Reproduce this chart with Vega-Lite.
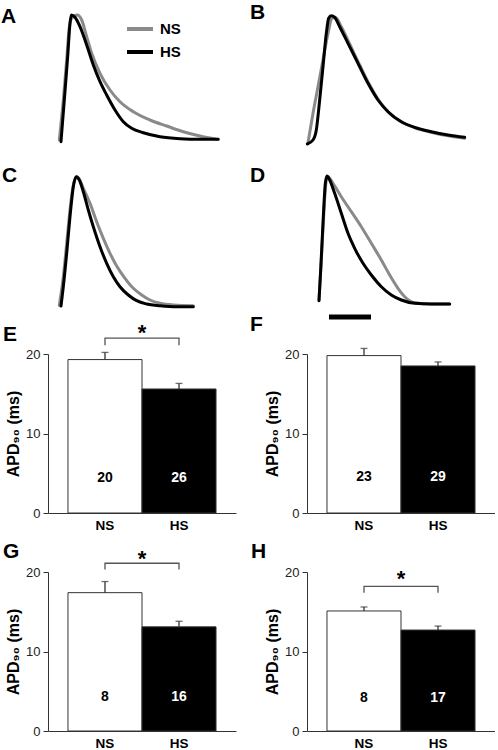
{
"$schema":"https://vega.github.io/schema/vega-lite/v6.json",
"padding":{"left":1,"top":2,"right":0,"bottom":0},
"bounds":"flush",
"columns":2,
"spacing":{"row":59,"column":71},
"resolve":{"scale":{"color":"independent"}},
"config":{"font":"Liberation Sans","view":{"stroke":null},"title":{"font":"Liberation Sans"},"axis":{"labelFont":"Liberation Sans","titleFont":"Liberation Sans"},"legend":{"labelFont":"Liberation Sans"},"text":{"font":"Liberation Sans"}},
"datasets":{
"traces":[
{"panel":"A","cond":"NS","t":2.83,"v":-75},{"panel":"A","cond":"NS","t":3.83,"v":-35},{"panel":"A","cond":"NS","t":4.67,"v":5},{"panel":"A","cond":"NS","t":5.25,"v":35},{"panel":"A","cond":"NS","t":5.92,"v":46.7},{"panel":"A","cond":"NS","t":7.33,"v":50},{"panel":"A","cond":"NS","t":8.42,"v":45},{"panel":"A","cond":"NS","t":9.67,"v":28.3},{"panel":"A","cond":"NS","t":10.92,"v":11.7},{"panel":"A","cond":"NS","t":13,"v":-8.3},{"panel":"A","cond":"NS","t":15.5,"v":-25},{"panel":"A","cond":"NS","t":18,"v":-36.7},{"panel":"A","cond":"NS","t":21.33,"v":-46.7},{"panel":"A","cond":"NS","t":25.5,"v":-55},{"panel":"A","cond":"NS","t":29.67,"v":-61},{"panel":"A","cond":"NS","t":33.83,"v":-66.7},{"panel":"A","cond":"NS","t":38,"v":-71},{"panel":"A","cond":"NS","t":42.17,"v":-74.3},
{"panel":"A","cond":"HS","t":3.25,"v":-76.7},{"panel":"A","cond":"HS","t":4.08,"v":-35},{"panel":"A","cond":"HS","t":4.92,"v":8.3},{"panel":"A","cond":"HS","t":5.5,"v":41.7},{"panel":"A","cond":"HS","t":5.83,"v":50},{"panel":"A","cond":"HS","t":6.75,"v":47.7},{"panel":"A","cond":"HS","t":8,"v":38.3},{"panel":"A","cond":"HS","t":9.67,"v":20},{"panel":"A","cond":"HS","t":11.33,"v":0},{"panel":"A","cond":"HS","t":13,"v":-16.7},{"panel":"A","cond":"HS","t":14.67,"v":-30},{"panel":"A","cond":"HS","t":16.75,"v":-45},{"panel":"A","cond":"HS","t":18.83,"v":-56.7},{"panel":"A","cond":"HS","t":20.92,"v":-63.3},{"panel":"A","cond":"HS","t":23.83,"v":-67.7},{"panel":"A","cond":"HS","t":28,"v":-71.7},{"panel":"A","cond":"HS","t":33,"v":-73.7},{"panel":"A","cond":"HS","t":38,"v":-74.3},{"panel":"A","cond":"HS","t":42.58,"v":-74.3},
{"panel":"B","cond":"NS","t":0.25,"v":-77.7},{"panel":"B","cond":"NS","t":1.5,"v":-48.3},{"panel":"B","cond":"NS","t":2.75,"v":-21.7},{"panel":"B","cond":"NS","t":4,"v":5},{"panel":"B","cond":"NS","t":5.25,"v":31.7},{"panel":"B","cond":"NS","t":6.25,"v":46.7},{"panel":"B","cond":"NS","t":7.08,"v":47.7},{"panel":"B","cond":"NS","t":8.58,"v":38.3},{"panel":"B","cond":"NS","t":10.67,"v":21},{"panel":"B","cond":"NS","t":13.17,"v":0},{"panel":"B","cond":"NS","t":15.67,"v":-20},{"panel":"B","cond":"NS","t":18.17,"v":-36.7},{"panel":"B","cond":"NS","t":20.67,"v":-48.3},{"panel":"B","cond":"NS","t":24,"v":-57.7},{"panel":"B","cond":"NS","t":27.33,"v":-63.3},{"panel":"B","cond":"NS","t":31.5,"v":-67.7},{"panel":"B","cond":"NS","t":35.67,"v":-71},{"panel":"B","cond":"NS","t":39.42,"v":-73.3},
{"panel":"B","cond":"HS","t":0.08,"v":-79},{"panel":"B","cond":"HS","t":1.5,"v":-75},{"panel":"B","cond":"HS","t":2.33,"v":-65},{"panel":"B","cond":"HS","t":3.17,"v":-35},{"panel":"B","cond":"HS","t":4,"v":-1.7},{"panel":"B","cond":"HS","t":4.83,"v":31.7},{"panel":"B","cond":"HS","t":5.42,"v":46.7},{"panel":"B","cond":"HS","t":6.08,"v":49.3},{"panel":"B","cond":"HS","t":6.92,"v":47.7},{"panel":"B","cond":"HS","t":8.17,"v":38.3},{"panel":"B","cond":"HS","t":10.25,"v":21.7},{"panel":"B","cond":"HS","t":12.75,"v":1.7},{"panel":"B","cond":"HS","t":15.25,"v":-18.3},{"panel":"B","cond":"HS","t":17.75,"v":-35},{"panel":"B","cond":"HS","t":20.25,"v":-46.7},{"panel":"B","cond":"HS","t":23.58,"v":-56.7},{"panel":"B","cond":"HS","t":26.92,"v":-62.3},{"panel":"B","cond":"HS","t":31.08,"v":-66.7},{"panel":"B","cond":"HS","t":35.25,"v":-70},{"panel":"B","cond":"HS","t":39.42,"v":-72.3},
{"panel":"C","cond":"NS","t":2.83,"v":-80.3},{"panel":"C","cond":"NS","t":3.83,"v":-51.7},{"panel":"C","cond":"NS","t":4.67,"v":-18.3},{"panel":"C","cond":"NS","t":5.5,"v":15},{"panel":"C","cond":"NS","t":6.33,"v":40},{"panel":"C","cond":"NS","t":7.33,"v":48.3},{"panel":"C","cond":"NS","t":8.83,"v":36.7},{"panel":"C","cond":"NS","t":10.5,"v":21.7},{"panel":"C","cond":"NS","t":12.17,"v":3.3},{"panel":"C","cond":"NS","t":13.83,"v":-13.3},{"panel":"C","cond":"NS","t":15.5,"v":-28.3},{"panel":"C","cond":"NS","t":17.17,"v":-41},{"panel":"C","cond":"NS","t":19.25,"v":-53.3},{"panel":"C","cond":"NS","t":21.33,"v":-63.3},{"panel":"C","cond":"NS","t":23.42,"v":-70},{"panel":"C","cond":"NS","t":25.5,"v":-75},{"panel":"C","cond":"NS","t":28,"v":-78.3},{"panel":"C","cond":"NS","t":31.33,"v":-80},{"panel":"C","cond":"NS","t":36.33,"v":-80.7},
{"panel":"C","cond":"HS","t":3.25,"v":-81},{"panel":"C","cond":"HS","t":3.83,"v":-61.7},{"panel":"C","cond":"HS","t":4.67,"v":-28.3},{"panel":"C","cond":"HS","t":5.5,"v":8.3},{"panel":"C","cond":"HS","t":6.33,"v":38.3},{"panel":"C","cond":"HS","t":7,"v":48.3},{"panel":"C","cond":"HS","t":7.83,"v":45},{"panel":"C","cond":"HS","t":8.83,"v":33.3},{"panel":"C","cond":"HS","t":10.08,"v":15},{"panel":"C","cond":"HS","t":11.33,"v":-1.7},{"panel":"C","cond":"HS","t":13,"v":-21.7},{"panel":"C","cond":"HS","t":14.67,"v":-38.3},{"panel":"C","cond":"HS","t":16.33,"v":-51.7},{"panel":"C","cond":"HS","t":18,"v":-61.7},{"panel":"C","cond":"HS","t":20.08,"v":-70},{"panel":"C","cond":"HS","t":22.17,"v":-75.7},{"panel":"C","cond":"HS","t":24.67,"v":-79},{"panel":"C","cond":"HS","t":28,"v":-80.7},{"panel":"C","cond":"HS","t":32.17,"v":-81.7},{"panel":"C","cond":"HS","t":36.33,"v":-81.7},
{"panel":"D","cond":"NS","t":3,"v":-75},{"panel":"D","cond":"NS","t":3.58,"v":-35},{"panel":"D","cond":"NS","t":4.25,"v":15},{"panel":"D","cond":"NS","t":4.83,"v":45},{"panel":"D","cond":"NS","t":5.25,"v":48.3},{"panel":"D","cond":"NS","t":6.5,"v":41.7},{"panel":"D","cond":"NS","t":8.58,"v":28.3},{"panel":"D","cond":"NS","t":11.08,"v":13.3},{"panel":"D","cond":"NS","t":13.58,"v":-1.7},{"panel":"D","cond":"NS","t":16.08,"v":-18.3},{"panel":"D","cond":"NS","t":18.58,"v":-35},{"panel":"D","cond":"NS","t":20.67,"v":-50},{"panel":"D","cond":"NS","t":22.75,"v":-63.3},{"panel":"D","cond":"NS","t":24.42,"v":-71.7},{"panel":"D","cond":"NS","t":26.92,"v":-77.7},{"panel":"D","cond":"NS","t":31.08,"v":-79},{"panel":"D","cond":"NS","t":35.67,"v":-79},
{"panel":"D","cond":"HS","t":3,"v":-75.7},{"panel":"D","cond":"HS","t":3.42,"v":-45},{"panel":"D","cond":"HS","t":3.83,"v":-11.7},{"panel":"D","cond":"HS","t":4.25,"v":21.7},{"panel":"D","cond":"HS","t":4.58,"v":41.7},{"panel":"D","cond":"HS","t":5,"v":49},{"panel":"D","cond":"HS","t":5.67,"v":45},{"panel":"D","cond":"HS","t":6.92,"v":31.7},{"panel":"D","cond":"HS","t":8.58,"v":11.7},{"panel":"D","cond":"HS","t":10.25,"v":-8.3},{"panel":"D","cond":"HS","t":11.92,"v":-23.3},{"panel":"D","cond":"HS","t":14,"v":-38.3},{"panel":"D","cond":"HS","t":16.08,"v":-50},{"panel":"D","cond":"HS","t":18.58,"v":-61.7},{"panel":"D","cond":"HS","t":21.08,"v":-70},{"panel":"D","cond":"HS","t":23.58,"v":-75},{"panel":"D","cond":"HS","t":26.92,"v":-78.3},{"panel":"D","cond":"HS","t":31.08,"v":-79},{"panel":"D","cond":"HS","t":35.67,"v":-79}
],
"scalebar":[{"t0":5.5,"t1":16,"v":-92}],
"bars":[
{"panel":"E","cond":"NS","mean":19.3,"err":20.2,"n":20},{"panel":"E","cond":"HS","mean":15.6,"err":16.3,"n":26},
{"panel":"F","cond":"NS","mean":19.8,"err":20.7,"n":23},{"panel":"F","cond":"HS","mean":18.5,"err":19.0,"n":29},
{"panel":"G","cond":"NS","mean":17.4,"err":18.8,"n":8},{"panel":"G","cond":"HS","mean":13.1,"err":13.8,"n":16},
{"panel":"H","cond":"NS","mean":15.1,"err":15.6,"n":8},{"panel":"H","cond":"HS","mean":12.7,"err":13.2,"n":17}
],
"sig":[
{"panel":"E","cond":"NS","y":21.1,"ord":1},{"panel":"E","cond":"NS","y":22.0,"ord":2},{"panel":"E","cond":"HS","y":22.0,"ord":3},{"panel":"E","cond":"HS","y":21.1,"ord":4},
{"panel":"G","cond":"NS","y":20.3,"ord":1},{"panel":"G","cond":"NS","y":21.1,"ord":2},{"panel":"G","cond":"HS","y":21.1,"ord":3},{"panel":"G","cond":"HS","y":20.3,"ord":4},
{"panel":"H","cond":"NS","y":17.4,"ord":1},{"panel":"H","cond":"NS","y":18.2,"ord":2},{"panel":"H","cond":"HS","y":18.2,"ord":3},{"panel":"H","cond":"HS","y":17.4,"ord":4}
],
"stars":[{"panel":"E","cond":"NS","y":21.7},{"panel":"G","cond":"NS","y":20.8},{"panel":"H","cond":"NS","y":18.3}]
},
"concat":[
  {"width":188,"height":101,
   "title":{"text":"A","anchor":"start","frame":"group","dx":-47,"dy":34,"offset":0,"fontSize":21,"fontWeight":"bold","baseline":"alphabetic","color":"#000"},
   "data":{"name":"traces"},"transform":[{"filter":"datum.panel==='A'"}],
   "mark":{"type":"line","interpolate":"monotone","strokeWidth":3,"strokeCap":"round","strokeJoin":"round"},
   "encoding":{
    "x":{"field":"t","type":"quantitative","scale":{"domain":[0,47],"nice":false,"zero":false},"axis":null},
    "y":{"field":"v","type":"quantitative","scale":{"domain":[-46,55],"nice":false,"zero":false},"axis":null},
    "color":{"field":"cond","type":"nominal","scale":{"domain":["NS","HS"],"range":["#8a8a8a","#000000"]},
      "legend":{"orient":"none","legendX":80,"legendY":7,"title":null,"symbolType":"M-1.3,0H1.3","symbolSize":400,"symbolStrokeWidth":4,"labelFontSize":15,"labelFontWeight":"bold","labelColor":"#000","padding":0,"rowPadding":3,"labelOffset":8}}
   }},
  {"width":188,"height":101,
   "title":{"text":"B","anchor":"start","frame":"group","dx":-57,"dy":30,"offset":0,"fontSize":21,"fontWeight":"bold","baseline":"alphabetic","color":"#000"},
   "data":{"name":"traces"},"transform":[{"filter":"datum.panel==='B'"}],
   "mark":{"type":"line","interpolate":"monotone","strokeWidth":3,"strokeCap":"round","strokeJoin":"round"},
   "encoding":{
    "x":{"field":"t","type":"quantitative","scale":{"domain":[0,47],"nice":false,"zero":false},"axis":null},
    "y":{"field":"v","type":"quantitative","scale":{"domain":[-46,55],"nice":false,"zero":false},"axis":null},
    "color":{"field":"cond","type":"nominal","scale":{"domain":["NS","HS"],"range":["#8a8a8a","#000000"]},"legend":null}
   }},
  {"width":188,"height":125,
   "title":{"text":"C","anchor":"start","frame":"group","dx":-46,"dy":33,"offset":0,"fontSize":21,"fontWeight":"bold","baseline":"alphabetic","color":"#000"},
   "data":{"name":"traces"},"transform":[{"filter":"datum.panel==='C'"}],
   "mark":{"type":"line","interpolate":"monotone","strokeWidth":3,"strokeCap":"round","strokeJoin":"round"},
   "encoding":{
    "x":{"field":"t","type":"quantitative","scale":{"domain":[0,47],"nice":false,"zero":false},"axis":null},
    "y":{"field":"v","type":"quantitative","scale":{"domain":[-70,55],"nice":false,"zero":false},"axis":null},
    "color":{"field":"cond","type":"nominal","scale":{"domain":["NS","HS"],"range":["#8a8a8a","#000000"]},"legend":null}
   }},
  {"width":188,"height":125,
   "title":{"text":"D","anchor":"start","frame":"group","dx":-57,"dy":33,"offset":0,"fontSize":21,"fontWeight":"bold","baseline":"alphabetic","color":"#000"},
   "layer":[
    {"data":{"name":"traces"},"transform":[{"filter":"datum.panel==='D'"}],
     "mark":{"type":"line","interpolate":"monotone","strokeWidth":3,"strokeCap":"round","strokeJoin":"round"},
     "encoding":{
      "x":{"field":"t","type":"quantitative","scale":{"domain":[0,47],"nice":false,"zero":false},"axis":null},
      "y":{"field":"v","type":"quantitative","scale":{"domain":[-70,55],"nice":false,"zero":false},"axis":null},
      "color":{"field":"cond","type":"nominal","scale":{"domain":["NS","HS"],"range":["#8a8a8a","#000000"]},"legend":null}
     }},
    {"data":{"name":"scalebar"},"mark":{"type":"rule","strokeWidth":5,"color":"#000","strokeCap":"butt"},
     "encoding":{"x":{"field":"t0","type":"quantitative"},"x2":{"field":"t1"},"y":{"field":"v","type":"quantitative"}}}
   ]},
  {"width":188,"height":159,
   "title":{"text":"E","anchor":"start","frame":"group","dx":-45,"dy":40,"offset":0,"fontSize":21,"fontWeight":"bold","baseline":"alphabetic","color":"#000"},
   "encoding":{"x":{"field":"cond","type":"nominal","sort":["NS","HS"],"scale":{"domain":["NS","HS"],"paddingInner":0,"paddingOuter":0.27},"axis":{"title":null,"ticks":false,"tickSize":0,"labelAngle":0,"labelFontSize":13.5,"labelFontWeight":"bold","labelColor":"#000","labelPadding":5,"domainColor":"#333"}}},
   "layer":[
    {"data":{"name":"bars"},"transform":[{"filter":"datum.panel==='E'"}],"mark":{"type":"bar","stroke":"#333","strokeWidth":1},
     "encoding":{"y":{"field":"mean","type":"quantitative","scale":{"domain":[0,20],"nice":false},"axis":{"values":[0,10,20],"title":"APD₉₀ (ms)","titleFontSize":16,"titleFontWeight":"bold","titleColor":"#000","labelFontSize":13,"labelColor":"#222","tickSize":5,"tickColor":"#333","domainColor":"#333","labelPadding":3,"titlePadding":4,"grid":false}},
      "fill":{"condition":{"test":"datum.cond==='HS'","value":"#000"},"value":"#fff"}}},
    {"data":{"name":"bars"},"transform":[{"filter":"datum.panel==='E'"}],"mark":{"type":"rule","color":"#333","strokeWidth":1.3},
     "encoding":{"y":{"field":"mean","type":"quantitative"},"y2":{"field":"err"}}},
    {"data":{"name":"bars"},"transform":[{"filter":"datum.panel==='E'"}],"mark":{"type":"tick","color":"#333","thickness":1.3,"size":7},
     "encoding":{"y":{"field":"err","type":"quantitative"}}},
    {"data":{"name":"bars"},"transform":[{"filter":"datum.panel==='E'"}],"mark":{"type":"text","fontSize":14,"fontWeight":"bold","baseline":"middle"},
     "encoding":{"y":{"datum":4.4},"text":{"field":"n"},"color":{"condition":{"test":"datum.cond==='HS'","value":"#fff"},"value":"#000"}}},
    {"data":{"name":"sig"},"transform":[{"filter":"datum.panel==='E'"}],"mark":{"type":"line","color":"#555","strokeWidth":1.3},
     "encoding":{"y":{"field":"y","type":"quantitative"},"order":{"field":"ord"}}},
    {"data":{"name":"stars"},"transform":[{"filter":"datum.panel==='E'"}],"mark":{"type":"text","text":"*","fontSize":22,"fontWeight":"bold","baseline":"alphabetic","color":"#000"},
     "encoding":{"x":{"field":"cond","type":"nominal","bandPosition":1},"y":{"field":"y","type":"quantitative"}}}
   ]},
  {"width":188,"height":159,
   "title":{"text":"F","anchor":"start","frame":"group","dx":-57,"dy":4,"offset":0,"fontSize":21,"fontWeight":"bold","baseline":"alphabetic","color":"#000"},
   "encoding":{"x":{"field":"cond","type":"nominal","sort":["NS","HS"],"scale":{"domain":["NS","HS"],"paddingInner":0,"paddingOuter":0.27},"axis":{"title":null,"ticks":false,"tickSize":0,"labelAngle":0,"labelFontSize":13.5,"labelFontWeight":"bold","labelColor":"#000","labelPadding":5,"domainColor":"#333"}}},
   "layer":[
    {"data":{"name":"bars"},"transform":[{"filter":"datum.panel==='F'"}],"mark":{"type":"bar","stroke":"#333","strokeWidth":1},
     "encoding":{"y":{"field":"mean","type":"quantitative","scale":{"domain":[0,20],"nice":false},"axis":{"values":[0,10,20],"title":"APD₉₀ (ms)","titleFontSize":16,"titleFontWeight":"bold","titleColor":"#000","labelFontSize":13,"labelColor":"#222","tickSize":5,"tickColor":"#333","domainColor":"#333","labelPadding":3,"titlePadding":4,"grid":false}},
      "fill":{"condition":{"test":"datum.cond==='HS'","value":"#000"},"value":"#fff"}}},
    {"data":{"name":"bars"},"transform":[{"filter":"datum.panel==='F'"}],"mark":{"type":"rule","color":"#333","strokeWidth":1.3},
     "encoding":{"y":{"field":"mean","type":"quantitative"},"y2":{"field":"err"}}},
    {"data":{"name":"bars"},"transform":[{"filter":"datum.panel==='F'"}],"mark":{"type":"tick","color":"#333","thickness":1.3,"size":7},
     "encoding":{"y":{"field":"err","type":"quantitative"}}},
    {"data":{"name":"bars"},"transform":[{"filter":"datum.panel==='F'"}],"mark":{"type":"text","fontSize":14,"fontWeight":"bold","baseline":"middle"},
     "encoding":{"y":{"datum":4.5},"text":{"field":"n"},"color":{"condition":{"test":"datum.cond==='HS'","value":"#fff"},"value":"#000"}}}
   ]},
  {"width":188,"height":159,
   "title":{"text":"G","anchor":"start","frame":"group","dx":-45,"dy":31,"offset":0,"fontSize":21,"fontWeight":"bold","baseline":"alphabetic","color":"#000"},
   "encoding":{"x":{"field":"cond","type":"nominal","sort":["NS","HS"],"scale":{"domain":["NS","HS"],"paddingInner":0,"paddingOuter":0.27},"axis":{"title":null,"ticks":false,"tickSize":0,"labelAngle":0,"labelFontSize":13.5,"labelFontWeight":"bold","labelColor":"#000","labelPadding":5,"domainColor":"#333"}}},
   "layer":[
    {"data":{"name":"bars"},"transform":[{"filter":"datum.panel==='G'"}],"mark":{"type":"bar","stroke":"#333","strokeWidth":1},
     "encoding":{"y":{"field":"mean","type":"quantitative","scale":{"domain":[0,20],"nice":false},"axis":{"values":[0,10,20],"title":"APD₉₀ (ms)","titleFontSize":16,"titleFontWeight":"bold","titleColor":"#000","labelFontSize":13,"labelColor":"#222","tickSize":5,"tickColor":"#333","domainColor":"#333","labelPadding":3,"titlePadding":4,"grid":false}},
      "fill":{"condition":{"test":"datum.cond==='HS'","value":"#000"},"value":"#fff"}}},
    {"data":{"name":"bars"},"transform":[{"filter":"datum.panel==='G'"}],"mark":{"type":"rule","color":"#333","strokeWidth":1.3},
     "encoding":{"y":{"field":"mean","type":"quantitative"},"y2":{"field":"err"}}},
    {"data":{"name":"bars"},"transform":[{"filter":"datum.panel==='G'"}],"mark":{"type":"tick","color":"#333","thickness":1.3,"size":7},
     "encoding":{"y":{"field":"err","type":"quantitative"}}},
    {"data":{"name":"bars"},"transform":[{"filter":"datum.panel==='G'"}],"mark":{"type":"text","fontSize":14,"fontWeight":"bold","baseline":"middle"},
     "encoding":{"y":{"datum":4.3},"text":{"field":"n"},"color":{"condition":{"test":"datum.cond==='HS'","value":"#fff"},"value":"#000"}}},
    {"data":{"name":"sig"},"transform":[{"filter":"datum.panel==='G'"}],"mark":{"type":"line","color":"#555","strokeWidth":1.3},
     "encoding":{"y":{"field":"y","type":"quantitative"},"order":{"field":"ord"}}},
    {"data":{"name":"stars"},"transform":[{"filter":"datum.panel==='G'"}],"mark":{"type":"text","text":"*","fontSize":22,"fontWeight":"bold","baseline":"alphabetic","color":"#000"},
     "encoding":{"x":{"field":"cond","type":"nominal","bandPosition":1},"y":{"field":"y","type":"quantitative"}}}
   ]},
  {"width":188,"height":159,
   "title":{"text":"H","anchor":"start","frame":"group","dx":-56,"dy":13,"offset":0,"fontSize":21,"fontWeight":"bold","baseline":"alphabetic","color":"#000"},
   "encoding":{"x":{"field":"cond","type":"nominal","sort":["NS","HS"],"scale":{"domain":["NS","HS"],"paddingInner":0,"paddingOuter":0.27},"axis":{"title":null,"ticks":false,"tickSize":0,"labelAngle":0,"labelFontSize":13.5,"labelFontWeight":"bold","labelColor":"#000","labelPadding":5,"domainColor":"#333"}}},
   "layer":[
    {"data":{"name":"bars"},"transform":[{"filter":"datum.panel==='H'"}],"mark":{"type":"bar","stroke":"#333","strokeWidth":1},
     "encoding":{"y":{"field":"mean","type":"quantitative","scale":{"domain":[0,20],"nice":false},"axis":{"values":[0,10,20],"title":"APD₉₀ (ms)","titleFontSize":16,"titleFontWeight":"bold","titleColor":"#000","labelFontSize":13,"labelColor":"#222","tickSize":5,"tickColor":"#333","domainColor":"#333","labelPadding":3,"titlePadding":4,"grid":false}},
      "fill":{"condition":{"test":"datum.cond==='HS'","value":"#000"},"value":"#fff"}}},
    {"data":{"name":"bars"},"transform":[{"filter":"datum.panel==='H'"}],"mark":{"type":"rule","color":"#333","strokeWidth":1.3},
     "encoding":{"y":{"field":"mean","type":"quantitative"},"y2":{"field":"err"}}},
    {"data":{"name":"bars"},"transform":[{"filter":"datum.panel==='H'"}],"mark":{"type":"tick","color":"#333","thickness":1.3,"size":7},
     "encoding":{"y":{"field":"err","type":"quantitative"}}},
    {"data":{"name":"bars"},"transform":[{"filter":"datum.panel==='H'"}],"mark":{"type":"text","fontSize":14,"fontWeight":"bold","baseline":"middle"},
     "encoding":{"y":{"datum":4.2},"text":{"field":"n"},"color":{"condition":{"test":"datum.cond==='HS'","value":"#fff"},"value":"#000"}}},
    {"data":{"name":"sig"},"transform":[{"filter":"datum.panel==='H'"}],"mark":{"type":"line","color":"#555","strokeWidth":1.3},
     "encoding":{"y":{"field":"y","type":"quantitative"},"order":{"field":"ord"}}},
    {"data":{"name":"stars"},"transform":[{"filter":"datum.panel==='H'"}],"mark":{"type":"text","text":"*","fontSize":22,"fontWeight":"bold","baseline":"alphabetic","color":"#000"},
     "encoding":{"x":{"field":"cond","type":"nominal","bandPosition":1},"y":{"field":"y","type":"quantitative"}}}
   ]}
]
}
